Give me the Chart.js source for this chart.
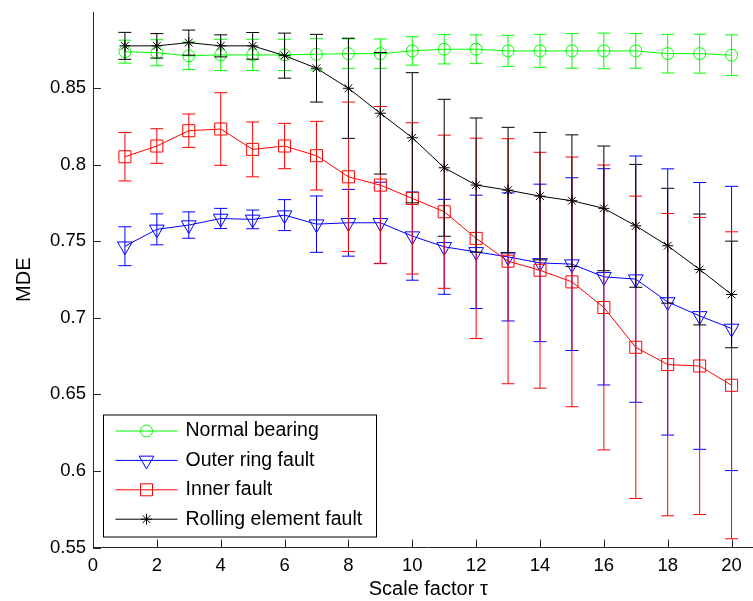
<!DOCTYPE html>
<html>
<head>
<meta charset="utf-8">
<title>MDE vs scale factor</title>
<script src="https://cdn.jsdelivr.net/npm/chart.js@4.4.1/dist/chart.umd.min.js"></script>
<style>
  html, body { margin: 0; padding: 0; background: #fff; }
  .wrap { width: 753px; height: 601px; overflow: hidden; }
  canvas { display: block; }
</style>
</head>
<body>
<div class="wrap"><canvas id="mdeChart" width="773" height="601"></canvas></div>
<script>
const scaleFactors = [1, 2, 3, 4, 5, 6, 7, 8, 9, 10, 11, 12, 13, 14, 15, 16, 17, 18, 19, 20];

const normalMean = [0.8737, 0.8730, 0.8710, 0.8716, 0.8716, 0.8716, 0.8720, 0.8724, 0.8724, 0.8742,
  0.8753, 0.8753, 0.8742, 0.8742, 0.8742, 0.8742, 0.8742, 0.8724, 0.8724, 0.8714];
const normalErr = [0.0075, 0.0085, 0.0090, 0.0102, 0.0102, 0.0102, 0.0102, 0.0096, 0.0096, 0.0093,
  0.0096, 0.0094, 0.0101, 0.0108, 0.0113, 0.0116, 0.0113, 0.0126, 0.0127, 0.0133];

const outerMean = [0.7467, 0.7577, 0.7605, 0.7648, 0.7642, 0.7670, 0.7611, 0.7620, 0.7620, 0.7533,
  0.7463, 0.7430, 0.7397, 0.7358, 0.7350, 0.7267, 0.7252, 0.7103, 0.7012, 0.6930];
const outerErr = [0.0127, 0.0101, 0.0086, 0.0066, 0.0061, 0.0101, 0.0184, 0.0218, 0.0265, 0.0288,
  0.0310, 0.0370, 0.0418, 0.0514, 0.0564, 0.0706, 0.0804, 0.0869, 0.0871, 0.0928];

const innerMean = [0.8051, 0.8121, 0.8221, 0.8232, 0.8099, 0.8121, 0.8058, 0.7920, 0.7866, 0.7779,
  0.7692, 0.7518, 0.7369, 0.7310, 0.7234, 0.7067, 0.6807, 0.6694, 0.6685, 0.6559];
const innerErr = [0.0158, 0.0113, 0.0109, 0.0237, 0.0179, 0.0148, 0.0224, 0.0488, 0.0513, 0.0494,
  0.0500, 0.0654, 0.0800, 0.0770, 0.0815, 0.0930, 0.0987, 0.0987, 0.0970, 0.1002];

const rollingMean = [0.8775, 0.8775, 0.8796, 0.8775, 0.8775, 0.8711, 0.8629, 0.8498, 0.8335, 0.8175,
  0.7979, 0.7866, 0.7833, 0.7794, 0.7764, 0.7714, 0.7600, 0.7470, 0.7315, 0.7152];
const rollingErr = [0.0088, 0.0080, 0.0082, 0.0072, 0.0087, 0.0147, 0.0221, 0.0327, 0.0397, 0.0425,
  0.0447, 0.0438, 0.0410, 0.0416, 0.0430, 0.0407, 0.0401, 0.0375, 0.0362, 0.0348];

const seriesNames = ["Normal bearing", "Outer ring fault", "Inner fault", "Rolling element fault"];
const xTicks = [0, 2, 4, 6, 8, 10, 12, 14, 16, 18, 20];
const yTicks = [0.55, 0.6, 0.65, 0.7, 0.75, 0.8, 0.85];

(function () {
  const FONT = "'Liberation Sans', Arial, Helvetica, sans-serif";
  const AXIS_COLOR = "#262626";

  function makeSeries(index, means, errs, color, marker) {
    return {
      label: seriesNames[index],
      data: scaleFactors.map((x, i) => ({ x: x, y: means[i] })),
      errors: errs,
      borderColor: color,
      borderWidth: 1,
      pointStyle: marker.style,
      pointRadius: marker.radius,
      pointHoverRadius: marker.radius,
      pointRotation: marker.rotation || 0,
      pointBorderColor: color,
      pointBackgroundColor: "rgba(0,0,0,0)",
      pointBorderWidth: 1,
      fill: false,
      tension: 0,
      order: 4 - index,
    };
  }

  // vertical error bars with caps, drawn under each line
  const errorBars = {
    id: "errorBars",
    beforeDatasetDraw(chart, args) {
      const ds = chart.data.datasets[args.index];
      if (!ds.errors) {
        return;
      }
      const { ctx, scales: { x, y } } = chart;
      const cap = 6.5;
      ctx.save();
      ctx.strokeStyle = ds.borderColor;
      ctx.lineWidth = 1;
      ctx.beginPath();
      ds.data.forEach((p, i) => {
        const px = x.getPixelForValue(p.x);
        const top = y.getPixelForValue(p.y + ds.errors[i]);
        const bot = y.getPixelForValue(p.y - ds.errors[i]);
        ctx.moveTo(px, top);
        ctx.lineTo(px, bot);
        ctx.moveTo(px - cap, top);
        ctx.lineTo(px + cap, top);
        ctx.moveTo(px - cap, bot);
        ctx.lineTo(px + cap, bot);
      });
      ctx.stroke();
      ctx.restore();
    },
  };

  // matlab style ticks pointing into the axes
  const innerTicks = {
    id: "innerTicks",
    afterDatasetsDraw(chart) {
      const { ctx, chartArea: a, scales: { x, y } } = chart;
      ctx.save();
      ctx.strokeStyle = AXIS_COLOR;
      ctx.lineWidth = 1;
      ctx.beginPath();
      x.ticks.forEach((t) => {
        const px = Math.round(x.getPixelForValue(t.value)) + 0.5;
        ctx.moveTo(px, a.bottom);
        ctx.lineTo(px, a.bottom - 8);
      });
      y.ticks.forEach((t) => {
        const py = Math.round(y.getPixelForValue(t.value)) + 0.5;
        ctx.moveTo(a.left, py);
        ctx.lineTo(a.left + 8, py);
      });
      ctx.stroke();
      ctx.restore();
    },
  };

  const boxLegend = {
    id: "boxLegend",
    afterDraw(chart) {
      const { ctx, chartArea: a } = chart;
      const left = a.left + 10.5;
      const top = a.bottom - 132.5;
      ctx.save();
      ctx.fillStyle = "#fff";
      ctx.strokeStyle = "#000";
      ctx.lineWidth = 1;
      ctx.fillRect(left, top, 273, 122);
      ctx.strokeRect(left, top, 273, 122);
      chart.data.datasets.forEach((ds, i) => {
        const rowY = top + 16 + i * 29.4;
        ctx.strokeStyle = ds.borderColor;
        ctx.beginPath();
        ctx.moveTo(left + 12, rowY);
        ctx.lineTo(left + 74, rowY);
        ctx.stroke();
        ctx.fillStyle = "rgba(0,0,0,0)";
        Chart.helpers.drawPoint(ctx, {
          pointStyle: ds.pointStyle,
          radius: ds.pointRadius,
          rotation: ds.pointRotation,
          borderWidth: 1,
        }, left + 43, rowY);
        ctx.fillStyle = "#000";
        ctx.font = "19.5px " + FONT;
        ctx.textBaseline = "middle";
        ctx.textAlign = "left";
        ctx.fillText(ds.label, left + 82, rowY);
      });
      ctx.restore();
    },
  };

  function renderChart() {
    const canvas = document.getElementById("mdeChart");
    if (!canvas || typeof Chart === "undefined") {
      return;
    }

    new Chart(canvas, {
      type: "line",
      data: {
        datasets: [
          makeSeries(0, normalMean, normalErr, "#00ff00", { style: "circle", radius: 6 }),
          makeSeries(1, outerMean, outerErr, "#0000ff", { style: "triangle", radius: 8.5, rotation: 180 }),
          makeSeries(2, innerMean, innerErr, "#ff0000", { style: "rect", radius: 8.5 }),
          makeSeries(3, rollingMean, rollingErr, "#000000", { style: "star", radius: 5.5 }),
        ],
      },
      options: {
        responsive: false,
        animation: false,
        devicePixelRatio: 1,
        layout: { padding: { top: 12, right: 2, left: 0, bottom: 0 } },
        plugins: {
          legend: { display: false },
          tooltip: { enabled: false },
        },
        scales: {
          x: {
            type: "linear",
            min: 0,
            max: 21,
            afterBuildTicks: (scale) => {
              scale.ticks = xTicks.map((v) => ({ value: v }));
            },
            afterFit: (scale) => {
              scale.height = 53.5;
              scale.paddingLeft = 0;
              scale.paddingRight = 0;
            },
            grid: { drawOnChartArea: false, drawTicks: false },
            border: { display: true, color: AXIS_COLOR, width: 1 },
            ticks: {
              color: "#000",
              padding: 7,
              maxRotation: 0,
              font: { family: FONT, size: 18.5 },
              callback: (value) => String(value),
            },
            title: {
              display: true,
              text: "Scale factor \u03c4",
              color: "#000",
              padding: { top: 0, bottom: 0 },
              font: { family: FONT, size: 20 },
            },
          },
          y: {
            type: "linear",
            min: 0.55,
            max: 0.8996,
            afterBuildTicks: (scale) => {
              scale.ticks = yTicks.map((v) => ({ value: v }));
            },
            afterFit: (scale) => {
              scale.width = 93;
              scale.paddingTop = 0;
              scale.paddingBottom = 0;
            },
            grid: { drawOnChartArea: false, drawTicks: false },
            border: { display: true, color: AXIS_COLOR, width: 1 },
            ticks: {
              color: "#000",
              padding: 7,
              font: { family: FONT, size: 18.5 },
              callback: (value) => String(Math.round(value * 100) / 100),
            },
            title: {
              display: true,
              text: "MDE",
              color: "#000",
              padding: { top: 12, bottom: 0 },
              font: { family: FONT, size: 20 },
            },
          },
        },
      },
      plugins: [errorBars, innerTicks, boxLegend],
    });
  }

  document.addEventListener("DOMContentLoaded", renderChart);
})();
</script>
</body>
</html>
